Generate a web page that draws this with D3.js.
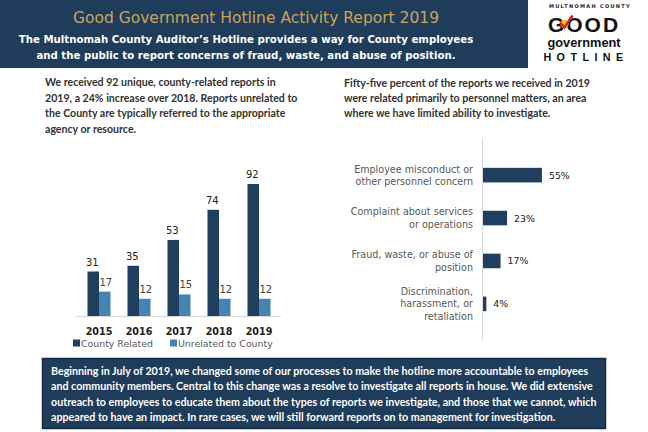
<!DOCTYPE html>
<html><head><meta charset="utf-8">
<script src="https://cdn.jsdelivr.net/npm/d3@7"></script>
<style>body{margin:0;background:#fff}svg{display:block}</style>
</head><body><svg id="c" width="648" height="432"></svg>
<script>
const years = ["2015","2016","2017","2018","2019"];
const countyRelated = [31,35,53,74,92];
const unrelated = [17,12,15,12,12];
const seriesNames = ["County Related","Unrelated to County"];
const categories = [
  ["Employee misconduct or","other personnel concern"],
  ["Complaint about services","or operations"],
  ["Fraud, waste, or abuse of","position"],
  ["Discrimination,","harassment, or","retaliation"]
];
const percents = [55,23,17,4];
const title = "Good Government Hotline Activity Report 2019";
const subtitle = ["The Multnomah County Auditor\u2019s Hotline provides a way for County employees",
  "and the public to report concerns of fraud, waste, and abuse of position."];
const leftText = ["We received 92 unique, county-related reports in",
  "2019, a 24% increase over 2018. Reports unrelated to",
  "the County are typically referred to the appropriate",
  "agency or resource."];
const rightText = ["Fifty-five percent of the reports we received in 2019",
  "were related primarily to personnel matters, an area",
  "where we have limited ability to investigate."];
const bottomText = ["Beginning in July of 2019, we changed some of our processes to make the hotline more accountable to employees",
  "and community members. Central to this change was a resolve to investigate all reports in house. We did extensive",
  "outreach to employees to educate them about the types of reports we investigate, and those that we cannot, which",
  "appeared to have an impact. In rare cases, we will still forward reports on to management for investigation."];

const DARK = "#203f5e", LIGHT = "#4583b5", NAVY = "#1f3c5a";
const svg = d3.select("#c");
const VER = "'DejaVu Sans', Verdana, sans-serif";
const CAL = "Lato, 'Open Sans', sans-serif";
const ARI = "'Liberation Sans', Arial, sans-serif";

// header
svg.append("rect").attr("x",0).attr("y",0).attr("width",528).attr("height",68).attr("fill",NAVY);
svg.append("text").attr("x",256).attr("y",23).attr("text-anchor","middle")
  .attr("font-family",VER).attr("font-size",15.5).attr("fill","#c9a45e").text(title);
svg.selectAll("text.sub").data(subtitle).join("text").attr("class","sub")
  .attr("x",246).attr("y",(d,i)=>43+i*16).attr("text-anchor","middle")
  .attr("font-family",VER).attr("font-weight","bold").attr("font-size",10.2).attr("fill","#fff").text(d=>d);

// logo
const lg = svg.append("g");
lg.append("text").attr("x",590).attr("y",8).attr("text-anchor","middle").attr("font-family",VER)
  .attr("font-weight","bold").attr("font-size",5).attr("letter-spacing",1.3).attr("fill","#222").text("MULTNOMAH COUNTY");
lg.append("text").attr("x",584).attr("y",31.5).attr("text-anchor","middle").attr("font-family",ARI)
  .attr("font-weight","bold").attr("font-size",21).attr("letter-spacing",2).attr("fill","#111").text("GOOD");
lg.append("circle").attr("cx",564.5).attr("cy",24).attr("r",4.2).attr("fill","#f2c200");
lg.append("path").attr("d","M560,22.5 L564.5,27.5 L572.5,15.5").attr("fill","none").attr("stroke","#d0202a").attr("stroke-width",2.5);
lg.append("text").attr("x",584).attr("y",47).attr("text-anchor","middle").attr("font-family",ARI)
  .attr("font-weight","bold").attr("font-size",12.8).attr("fill","#111").text("government");
lg.append("text").attr("x",586).attr("y",60.5).attr("text-anchor","middle").attr("font-family",ARI)
  .attr("font-weight","bold").attr("font-size",10.8).attr("letter-spacing",5.4).attr("fill","#111").text("HOTLINE");

// paragraphs
function para(lines, x, y0, lh, fill, size, weight){
  const g = svg.append("g");
  g.selectAll("text").data(lines).join("text").attr("x",x).attr("y",(d,i)=>y0+i*lh)
   .attr("font-family",CAL).attr("font-size",size).attr("font-weight",weight).attr("fill",fill).text(d=>d);
  return g;
}
para(leftText,45,86,15.6,"#333",10.6,"bold");
para(rightText,344,87,15.2,"#333",10.6,"bold");

// bar chart
const x0 = d3.scaleBand().domain(years).range([79,279]).paddingInner(0.425).paddingOuter(0.2125);
const x1 = d3.scaleBand().domain(seriesNames).range([0,x0.bandwidth()]);
const y = d3.scaleLinear().domain([0,100]).range([316,172.5]);
const data = years.map((yr,i)=>({yr, vals:[countyRelated[i],unrelated[i]]}));
const bc = svg.append("g");
const grp = bc.selectAll("g.grp").data(data).join("g").attr("transform",d=>`translate(${x0(d.yr)},0)`);
grp.selectAll("rect").data(d=>d.vals.map((v,j)=>({v,s:seriesNames[j]}))).join("rect")
  .attr("x",d=>x1(d.s)).attr("width",x1.bandwidth()).attr("y",d=>y(d.v)).attr("height",d=>y(0)-y(d.v))
  .attr("fill",d=>d.s===seriesNames[0]?DARK:LIGHT);
grp.selectAll("text").data(d=>d.vals.map((v,j)=>({v,s:seriesNames[j]}))).join("text")
  .attr("x",d=>x1(d.s)+x1.bandwidth()/2 + (d.s===seriesNames[1]?1:-1)).attr("y",d=>y(d.v)-6).attr("text-anchor","middle")
  .attr("font-family",VER).attr("font-size",10).attr("fill",d=>d.s===seriesNames[0]?"#222":"#444").text(d=>d.v);
const xAxis = bc.append("g").attr("transform","translate(0,316)")
  .call(d3.axisBottom(x0).tickSize(0).tickPadding(12).tickSizeOuter(0));
xAxis.select(".domain").attr("stroke","#d9d9d9").attr("d","M-2,0.5H204").attr("transform","translate(77,0)");
xAxis.selectAll("text").attr("font-family",VER).attr("font-weight","bold").attr("font-size",9.6).attr("fill","#222");
// legend
const leg = bc.append("g");
const legX = [73,170];
seriesNames.forEach((s,i)=>{
  leg.append("rect").attr("x",legX[i]).attr("y",339.5).attr("width",7).attr("height",7).attr("fill",i?LIGHT:DARK);
  leg.append("text").attr("x",legX[i]+8).attr("y",347).attr("font-family",VER).attr("font-size",9.4).attr("fill","#595959").text(s);
});

// horizontal bar chart
const hy = d3.scaleBand().domain(d3.range(categories.length)).range([139.5,339.5]).padding(0.66);
const hx = d3.scaleLinear().domain([0,100]).range([482,591]);
const hc = svg.append("g");
hc.selectAll("rect").data(percents).join("rect").attr("x",hx(0)).attr("y",(d,i)=>hy(i))
  .attr("width",d=>hx(d)-hx(0)).attr("height",hy.bandwidth()).attr("fill",DARK);
hc.selectAll("text.val").data(percents).join("text").attr("class","val")
  .attr("x",d=>hx(d)+7).attr("y",(d,i)=>hy(i)+hy.bandwidth()/2+3.5)
  .attr("font-family",VER).attr("font-size",9.4).attr("fill","#222").text(d=>d+"%");
const yAx = hc.append("g").attr("transform",`translate(${hx(0)},0)`)
  .call(d3.axisLeft(hy).tickSize(0).tickFormat(""));
yAx.select(".domain").attr("stroke","#d9d9d9").attr("d","M0.5,138V341");
categories.forEach((lines,i)=>{
  const cy = hy(i)+hy.bandwidth()/2;
  const n = lines.length;
  lines.forEach((t,k)=>{
    hc.append("text").attr("x",473).attr("y",cy+(k-(n-1)/2)*12.2+3.5).attr("text-anchor","end")
      .attr("font-family",VER).attr("font-size",9.6).attr("fill","#595959").text(t);
  });
});

// bottom box
svg.append("rect").attr("x",42.5).attr("y",358.5).attr("width",563).attr("height",70).attr("fill",NAVY).attr("stroke","#162c42").attr("stroke-width",1.5);
para(bottomText,51,375,15.4,"#fff",10.7,"bold");
</script></body></html>
